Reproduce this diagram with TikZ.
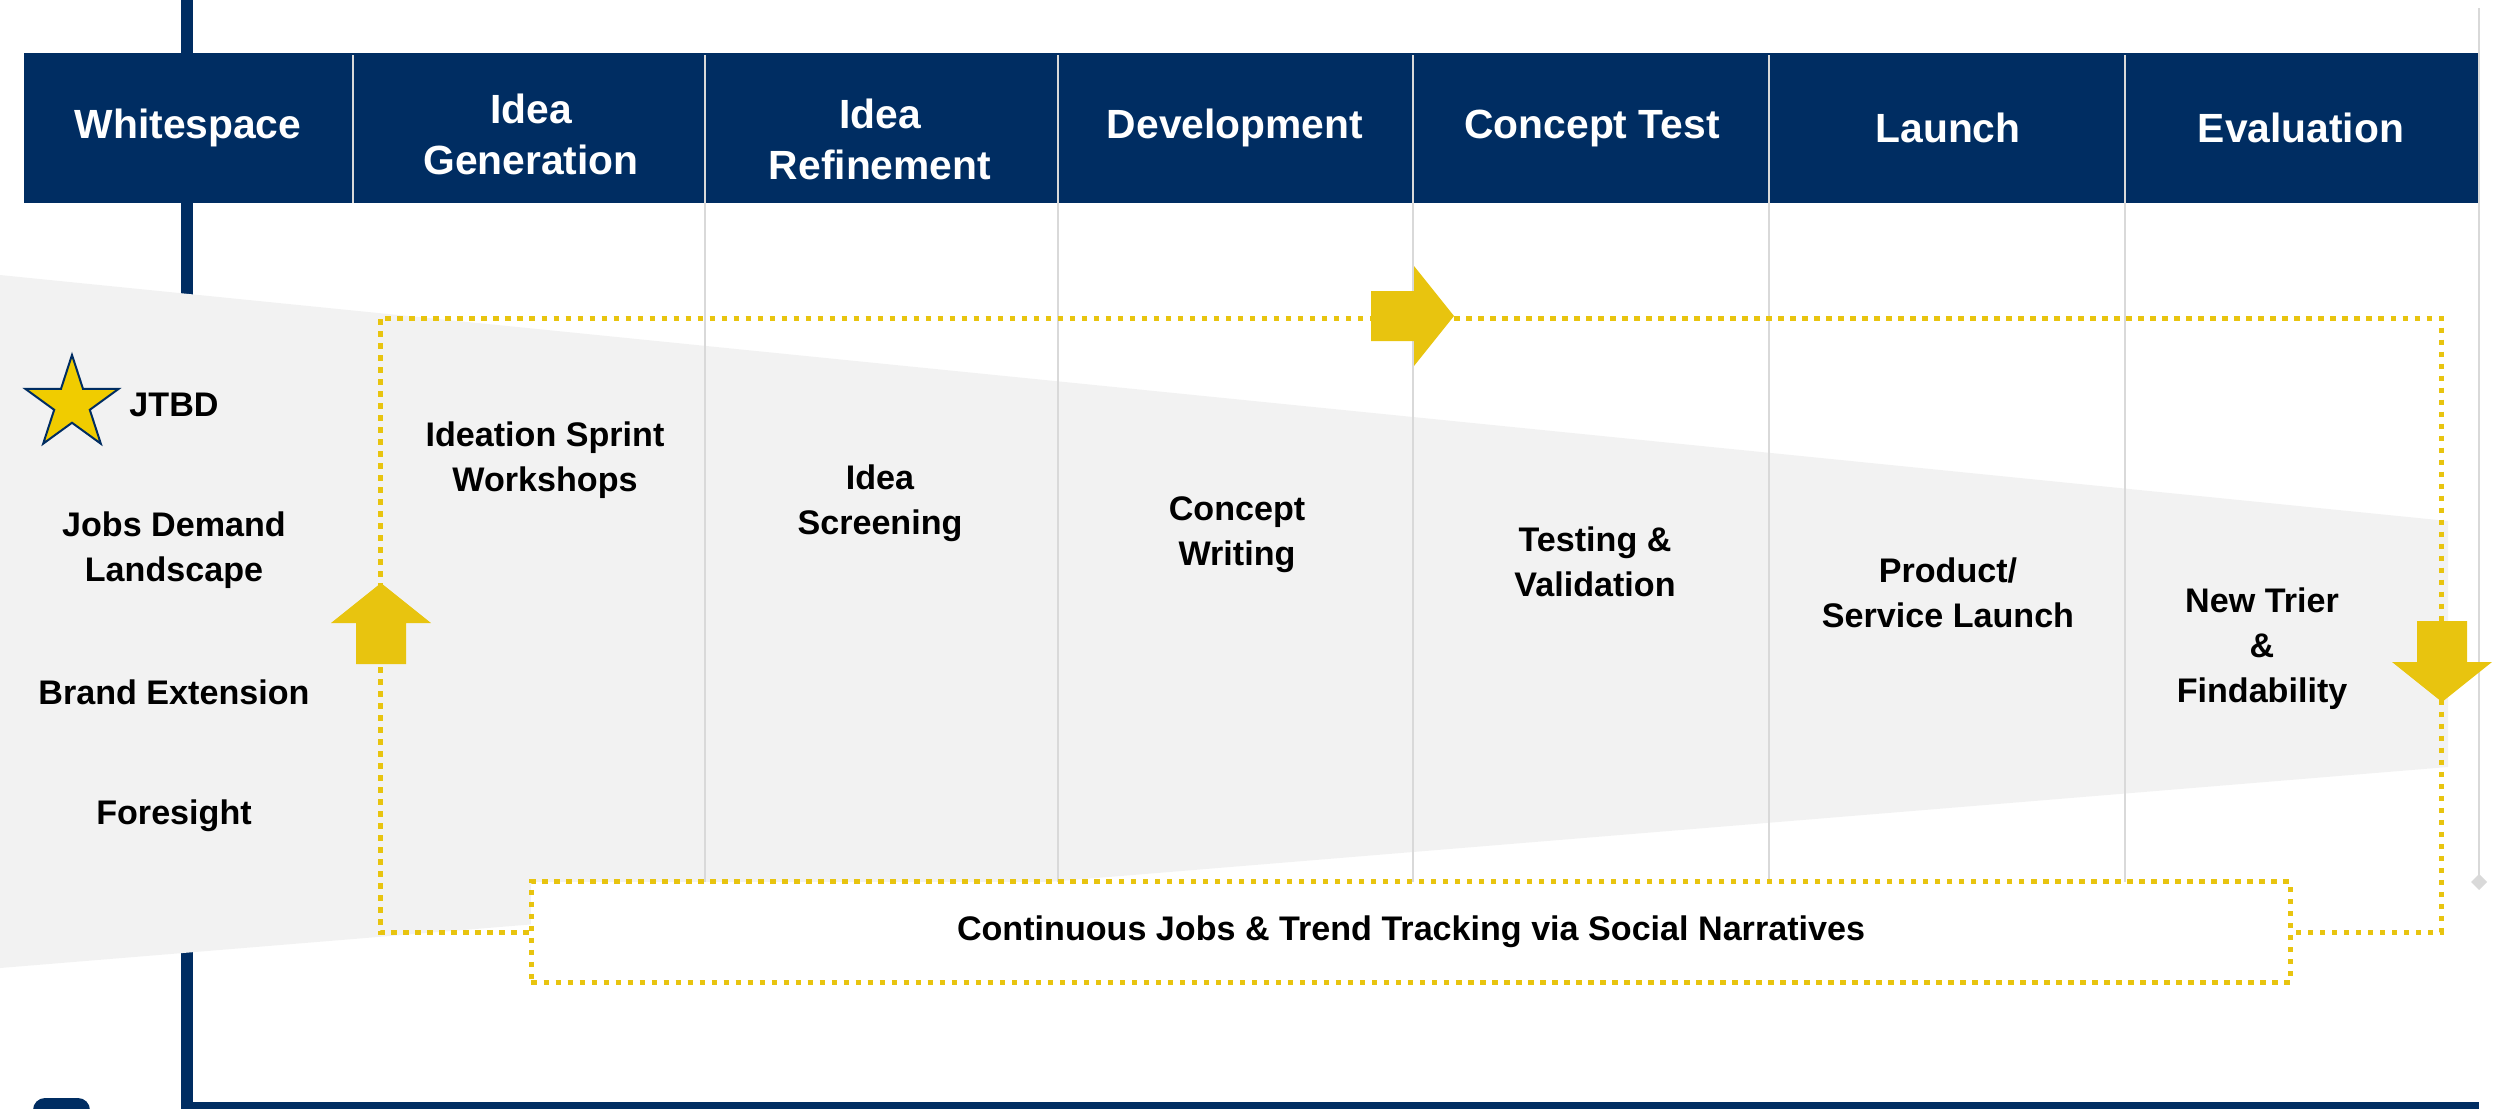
\documentclass[tikz,border=0pt]{standalone}
\usepackage{fontspec}
\setmainfont{Liberation Sans}
\usetikzlibrary{arrows.meta}
\usetikzlibrary{shapes.geometric}
\definecolor{navy}{HTML}{002D62}
\definecolor{gold}{HTML}{E8C40F}
\definecolor{stargold}{HTML}{F0CC00}
\definecolor{funnelgray}{HTML}{F2F2F2}
\definecolor{rulegray}{HTML}{D9D9D9}
\tikzset{
  phase/.style={text=white,font=\bfseries\fontsize{11.6}{14.5}\selectfont,align=center,inner sep=0pt},
  task/.style={text=black,font=\bfseries\fontsize{9.7}{12.8}\selectfont,align=center,inner sep=0pt},
  trackline/.style={draw=gold,line width=0.05cm,dash pattern=on 0.055cm off 0.065cm},
  colrule/.style={draw=rulegray,line width=0.025cm},
}

\begin{document}
\begin{tikzpicture}[x=0.01cm,y=-0.01cm,>=latex,line join=miter]
\useasboundingbox (0,0) rectangle (2506,1108);
%%
\draw[navy,line width=0.12cm] (187,-10) -- (187,1108) -- (2479,1108);
\fill[navy,rounded corners=0.12cm] (33,1098) rectangle (90,1140);
\fill[funnelgray] (0,275) -- (2448,521) -- (2448,767) -- (0,968) -- cycle;
% header band and column rules
\fill[navy] (24,53) rectangle (2479,203);
\draw[colrule] (353,55) -- (353,203);
\foreach \x in {705,1058,1413,1769,2125}
  \draw[colrule] (\x,55) -- (\x,883);
\draw[colrule,-{Diamond[length=0.16cm,width=0.16cm]}] (2479,8) -- (2479,890);
%
\node[phase] (phase_0) at (188,128) {Whitespace};
\node[phase] (phase_1) at (531,134) {Idea\\Generation};
\node[phase] (phase_2) at (880,139) {Idea\\Refinement};
\node[phase] (phase_3) at (1235,128) {Development};
\node[phase] (phase_4) at (1592,128) {Concept Test};
\node[phase] (phase_5) at (1948,128) {Launch};
\node[phase] (phase_6) at (2301,128) {Evaluation};
% feedback loop
\node[task,trackline,fill=white,minimum width=17.58cm,minimum height=1cm] (track) at (1411,932) {Continuous Jobs \& Trend Tracking via Social Narratives};
\coordinate (loop_nw) at (380,318);
\coordinate (loop_se) at (2441,932);
\draw[trackline] (track.west) -| (loop_nw) -| (loop_se) -- (track.east);
\fill[gold] (381,583) -- (431,623) -- (406,623) -- (406,664) -- (356,664) -- (356,623) -- (331,623) -- cycle;
\fill[gold] (1454,316) -- (1414,366) -- (1414,341) -- (1371,341) -- (1371,291) -- (1414,291) -- (1414,266) -- cycle;
\fill[gold] (2442,702) -- (2492,662) -- (2467,662) -- (2467,621) -- (2417,621) -- (2417,662) -- (2392,662) -- cycle;
%
\node[star,star points=5,star point ratio=2.618,minimum size=0.98cm,inner sep=0pt,fill=stargold,draw=navy,line width=0.02cm] (star) at (72,404) {};
\node[task] (jtbd) at (174,405) {JTBD};
\node[task] (src_1) at (174,550) {Jobs Demand\\Landscape};
\node[task] (src_2) at (174,692) {Brand Extension};
\node[task] (src_3) at (174,816) {Foresight};
\node[task] (task_1) at (545,460) {Ideation Sprint\\Workshops};
\node[task] (task_2) at (880,503) {Idea\\Screening};
\node[task] (task_3) at (1237,535) {Concept\\Writing};
\node[task] (task_4) at (1595,562) {Testing \&\\Validation};
\node[task] (task_5) at (1948,593) {Product/\\Service Launch};
\node[task] (task_6) at (2262,649) {New Trier\\\&\\Findability};
%
\end{tikzpicture}
\end{document}
